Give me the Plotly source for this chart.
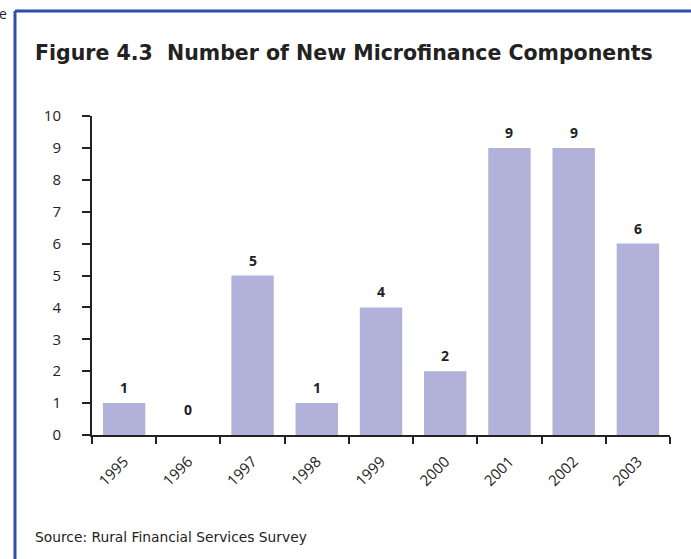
import plotly.graph_objects as go

years = ["1995", "1996", "1997", "1998", "1999", "2000", "2001", "2002", "2003"]
counts = [1, 0, 5, 1, 4, 2, 9, 9, 6]
y_ticks = list(range(0, 11))

W, H = 691, 559
L, R, T, B = 92, 21, 116, 124
pw, ph = W - L - R, H - T - B

def px_x(x):
    return (x - L) / pw

def px_y(y):
    return (H - B - y) / ph

fig = go.Figure()
fig.add_trace(go.Bar(
    x=years, y=counts, marker=dict(color="#b1b1d9", line=dict(width=0)),
    width=0.66, hoverinfo="skip",
))

for i, c in enumerate(counts):
    fig.add_annotation(x=i, y=c, xref="x", yref="y", text=f"<b>{c}</b>",
                       showarrow=False, yanchor="bottom",
                       yshift=4 if c > 0 else 14,
                       font=dict(size=14, color="#222222", family="Open Sans"))

fig.add_annotation(xref="paper", yref="paper", x=px_x(33), y=px_y(53),
                   xanchor="left", yanchor="middle", showarrow=False,
                   text="<b>Figure 4.3  Number of New Microfinance Components</b>",
                   font=dict(size=20.5, color="#222222", family="DejaVu Sans"))
fig.add_annotation(xref="paper", yref="paper", x=px_x(33), y=px_y(537),
                   xanchor="left", yanchor="middle", showarrow=False,
                   text="Source: Rural Financial Services Survey",
                   font=dict(size=13.8, color="#222222", family="DejaVu Sans"))
fig.add_annotation(xref="paper", yref="paper", x=px_x(-3), y=px_y(13),
                   xanchor="left", yanchor="middle", showarrow=False,
                   text="e", font=dict(size=14, color="#222222", family="Open Sans"))

blue = "#2d4cae"
fig.add_shape(type="line", xref="paper", yref="paper",
              x0=px_x(15), x1=px_x(15), y0=px_y(11), y1=px_y(565),
              line=dict(color=blue, width=3))
fig.add_shape(type="line", xref="paper", yref="paper",
              x0=px_x(15), x1=px_x(700), y0=px_y(11), y1=px_y(11),
              line=dict(color=blue, width=3))

fig.update_layout(
    width=W, height=H, autosize=False,
    margin=dict(l=L, r=R, t=T, b=B),
    paper_bgcolor="white", plot_bgcolor="white",
    showlegend=False, bargap=0.34,
    font=dict(family="Open Sans", size=15, color="#222222"),
)
fig.update_xaxes(
    type="category", showline=True, linecolor="#222222", linewidth=2,
    ticks="outside", ticklen=7, tickwidth=2, tickcolor="#222222",
    tickson="boundaries", tickangle=-45, showgrid=False,
    ticklabelstandoff=10,
    tickfont=dict(size=15, family="Open Sans", color="#222222"),
    range=[-0.5, 8.5],
)
fig.update_yaxes(
    range=[0, 10], tickvals=y_ticks, showline=True, linecolor="#222222",
    linewidth=2, ticks="outside", ticklen=8, tickwidth=2, tickcolor="#222222",
    showgrid=False, zeroline=False, ticklabelstandoff=18,
    tickfont=dict(size=15, family="Open Sans", color="#222222"),
)

fig.write_html("out.html", config={"displayModeBar": False},
               post_script="document.body.style.margin='0';")
